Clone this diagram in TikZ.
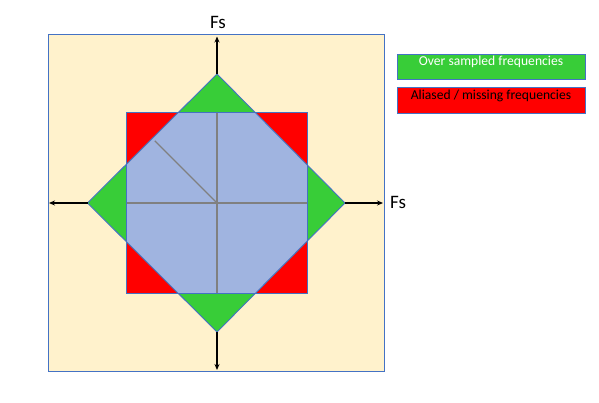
\documentclass[tikz,border=0pt]{standalone}
\usepackage{fontspec}
\setmainfont{Carlito}
\usetikzlibrary{arrows.meta}
\definecolor{bgyellow}{HTML}{FFF2CC}
\definecolor{edgeblue}{HTML}{4472C4}
\definecolor{overgreen}{HTML}{38CD38}
\definecolor{aliasred}{HTML}{FF0000}
\definecolor{passblue}{HTML}{A0B4E0}
\definecolor{gridgray}{HTML}{808080}
\tikzset{
  outline/.style={draw=edgeblue, line width=0.9pt},
  axisarrow/.style={black, line width=1.3pt, -{Stealth[length=6pt,width=5pt]}},
  gridline/.style={gridgray, line width=1.3pt},
  legendbox/.style={draw=edgeblue, line width=0.6pt, minimum width=188pt, minimum height=25.5pt, inner sep=0pt},
  legendtext/.style={font=\fontsize{13.6}{15}\selectfont},
  fslabel/.style={font=\fontsize{19}{21}\selectfont, inner sep=0pt}
}
\begin{document}
\begin{tikzpicture}[x=1pt,y=1pt]
\useasboundingbox (0,0) rectangle (599,403);
\fill[white] (0,0) rectangle (599,403);
% frame
\coordinate (c) at (217,200);
\coordinate (fbl) at (48,32);
\coordinate (ftr) at (384,368.5);
\fill[bgyellow] (fbl) rectangle (ftr);
\draw[edgeblue, line width=0.9pt] (fbl) rectangle (ftr);
% square and diamond
\coordinate (sbl) at (126.5,109.5);
\coordinate (str) at (307.5,290.5);
\coordinate (dt) at (217,329);
\coordinate (db) at (217,71);
\coordinate (dl) at (87.5,200);
\coordinate (dr) at (345,200);
\fill[aliasred] (sbl) rectangle (str);
\fill[overgreen] (dt) -- (dr) -- (db) -- (dl) -- cycle;
\begin{scope}
  \clip (dt) -- (dr) -- (db) -- (dl) -- cycle;
  \fill[passblue] (sbl) rectangle (str);
\end{scope}
% grid lines
\coordinate (gt) at (217,290.5);
\coordinate (gb) at (217,109.5);
\coordinate (gl) at (126.5,200);
\coordinate (gr) at (307.5,200);
\coordinate (gd) at (154.8,262.2);
\draw[gridline] (gt) -- (gb);
\draw[gridline] (gl) -- (gr);
\draw[gridline] (gd) -- (c);
% outlines
\draw[outline] (sbl) rectangle (str);
\draw[outline] (dt) -- (dr) -- (db) -- (dl) -- cycle;
% axes
\coordinate (at) at (217,366.5);
\coordinate (ab) at (217,33);
\coordinate (al) at (49,200);
\coordinate (ar) at (383,200);
\draw[axisarrow] (dt) -- (at);
\draw[axisarrow] (db) -- (ab);
\draw[axisarrow] (dl) -- (al);
\draw[axisarrow] (dr) -- (ar);
\node[fslabel] (fstop) at (218,381) {Fs};
\node[fslabel, anchor=west] (fsright) at (390,201) {Fs};
% legend
\node[legendbox, fill=overgreen] (lg) at (491,336) {};
\node[legendbox, fill=aliasred] (lr) at (491,302.5) {};
\node[legendtext, text=white] (lgt) at (491,341.5) {Over sampled frequencies};
\node[legendtext, text=black] (lrt) at (491,307.5) {Aliased / missing frequencies};
\end{tikzpicture}
\end{document}
